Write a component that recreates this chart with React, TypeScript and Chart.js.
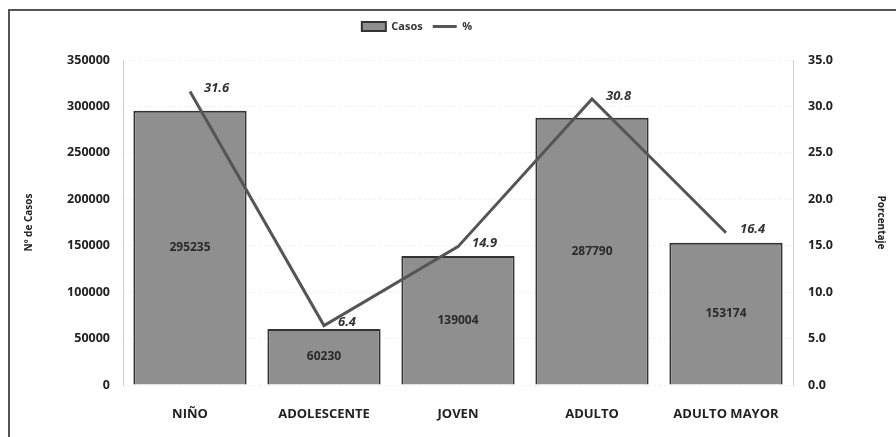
import React, { useEffect, useRef } from 'react';
import { Chart, registerables } from 'chart.js';

Chart.register(...registerables);

const categories = ['NIÑO', 'ADOLESCENTE', 'JOVEN', 'ADULTO', 'ADULTO MAYOR'];
const casos = [295235, 60230, 139004, 287790, 153174];
const porcentaje = [31.6, 6.4, 14.9, 30.8, 16.4];
const leftMax = 350000;
const leftStep = 50000;
const rightMax = 35;
const rightStep = 5;

const FONT = "'Open Sans', 'Liberation Sans', sans-serif";

const labelsPlugin = {
  id: 'valueLabels',
  afterDatasetsDraw(chart: any) {
    const ctx = chart.ctx;
    ctx.save();
    chart.data.datasets.forEach((ds: any, i: number) => {
      const meta = chart.getDatasetMeta(i);
      meta.data.forEach((el: any, j: number) => {
        const v = ds.data[j];
        if (ds.type === 'bar') {
          ctx.font = `bold 12px ${FONT}`;
          ctx.fillStyle = '#2a2a2a';
          ctx.textAlign = 'center';
          ctx.textBaseline = 'middle';
          ctx.fillText(String(v), el.x, (el.y + el.base) / 2);
        } else {
          ctx.font = `italic bold 13px ${FONT}`;
          ctx.fillStyle = '#333';
          ctx.textAlign = 'left';
          ctx.textBaseline = 'middle';
          ctx.fillText(v.toFixed(1), el.x + 14, el.y - 3);
        }
      });
    });
    ctx.restore();
  },
};

const legendPlugin = {
  id: 'legendTweak',
  beforeInit(chart: any) {
    const orig = chart.legend.fit;
    chart.legend.fit = function () {
      orig.bind(chart.legend)();
      this.height += 18;
    };
  },
  afterLayout(chart: any) {
    const l = chart.legend;
    l.left -= 36;
    l.right -= 36;
  },
};

export default function App() {
  const ref = useRef<HTMLCanvasElement | null>(null);
  useEffect(() => {
    if (!ref.current) return;
    const chart = new Chart(ref.current, {
      type: 'bar',
      data: {
        labels: categories,
        datasets: [
          {
            type: 'bar',
            label: 'Casos',
            data: casos,
            yAxisID: 'y',
            backgroundColor: '#8f8f8f',
            borderColor: '#333333',
            borderWidth: 2,
            categoryPercentage: 1,
            barPercentage: 0.845,
            order: 1,
            pointStyle: 'rect',
          } as any,
          {
            type: 'line',
            label: '%',
            data: porcentaje,
            yAxisID: 'y1',
            borderColor: '#555555',
            backgroundColor: '#555555',
            borderWidth: 3,
            pointRadius: 0,
            tension: 0,
            order: 0,
            pointStyle: 'line',
          } as any,
        ],
      },
      options: {
        responsive: false,
        animation: false,
        layout: { padding: 0 },
        plugins: {
          tooltip: { enabled: false },
          legend: {
            position: 'top',
            labels: {
              usePointStyle: true,
              pointStyleWidth: 24,
              boxHeight: 9,
              padding: 10,
              color: '#333',
              font: { family: FONT, size: 11, weight: 'bold' },
              sort: (a: any, b: any) => a.datasetIndex - b.datasetIndex,
            },
          },
        },
        scales: {
          x: {
            grid: { display: false, drawTicks: false },
            border: { display: false },
            ticks: {
              padding: 21,
              color: '#222',
              font: { family: FONT, size: 13, weight: 'bold' },
            },
            afterFit: (s: any) => {
              s.height = 52;
            },
          },
          y: {
            position: 'left',
            min: 0,
            max: leftMax,
            ticks: {
              stepSize: leftStep,
              padding: 13,
              color: '#222',
              font: { family: FONT, size: 12.5, weight: 'bold' },
              callback: (v: any) => String(v),
            },
            grid: { color: '#eeeeee', drawTicks: false },
            border: { display: true, color: '#cfcfcf', dash: [2, 3] },
            title: {
              display: true,
              text: 'Nº de Casos',
              color: '#222',
              font: { family: FONT, size: 10, weight: 'bold' },
              padding: { top: 13, bottom: 0 },
            },
            afterFit: (s: any) => {
              s.width = 113;
            },
          },
          y1: {
            position: 'right',
            min: 0,
            max: rightMax,
            ticks: {
              stepSize: rightStep,
              padding: 15,
              color: '#222',
              font: { family: FONT, size: 12.5, weight: 'bold' },
              callback: (v: any) => Number(v).toFixed(1),
            },
            grid: { display: false, drawTicks: false },
            border: { display: true, color: '#cfcfcf', dash: [2, 3] },
            title: {
              display: true,
              text: 'Porcentaje',
              color: '#222',
              font: { family: FONT, size: 10, weight: 'bold' },
              padding: { top: 9, bottom: 0 },
            },
            afterFit: (s: any) => {
              s.width = 103;
            },
          },
        },
      },
      plugins: [labelsPlugin, legendPlugin],
    } as any);
    return () => chart.destroy();
  }, []);

  return (
    <div
      style={{
        position: 'absolute',
        left: 8,
        top: 9,
        width: 886,
        height: 426,
        borderTop: '2px solid #555',
        borderLeft: '2px solid #555',
        background: '#fff',
      }}
    >
      <canvas ref={ref} width={886} height={426} style={{ display: 'block' }} />
    </div>
  );
}
